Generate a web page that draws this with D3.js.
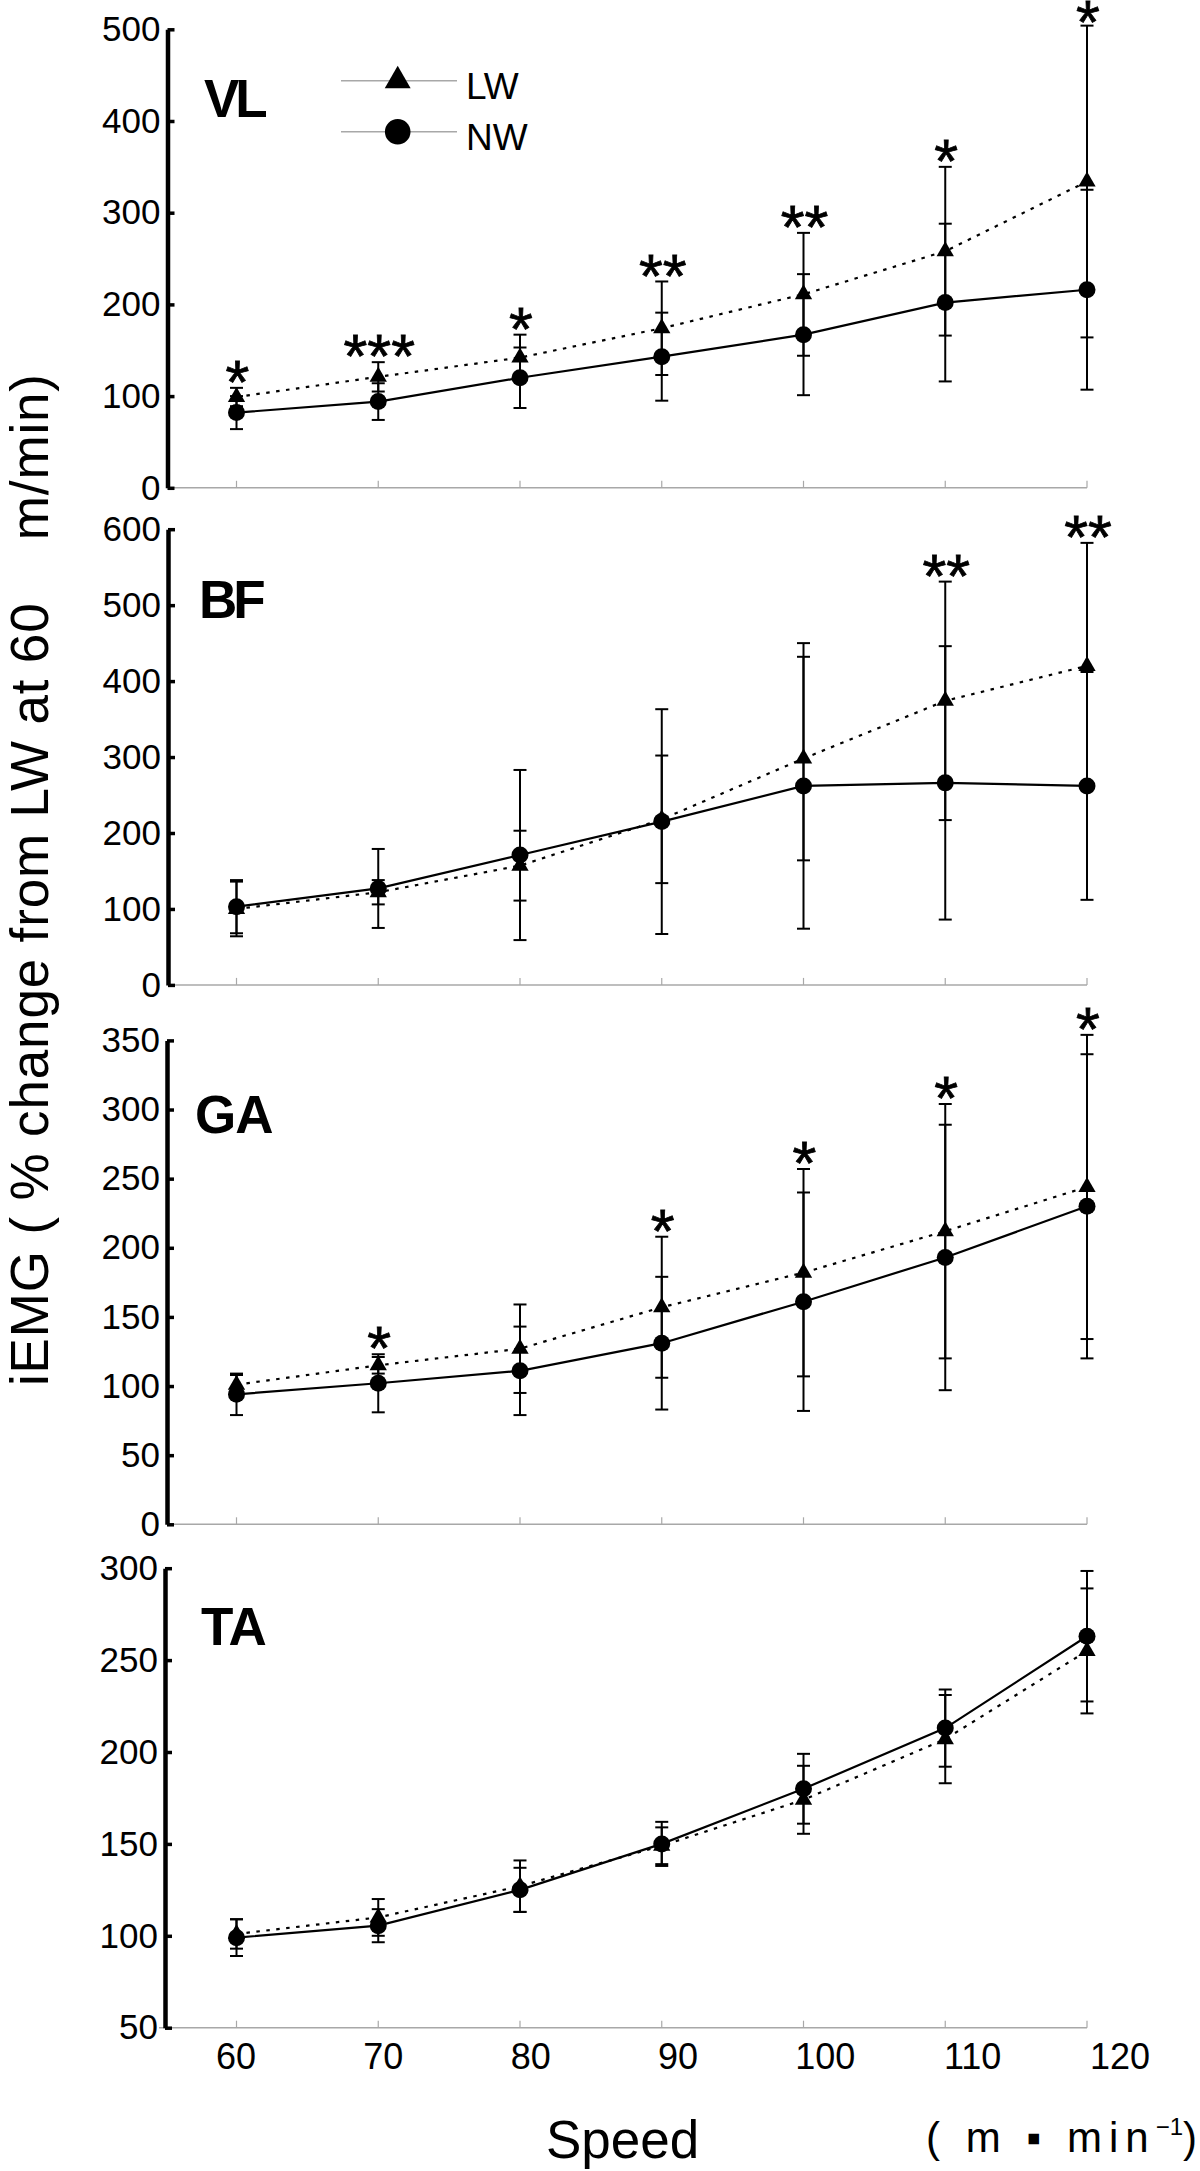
<!DOCTYPE html>
<html>
<head>
<meta charset="utf-8">
<script src="https://cdn.jsdelivr.net/npm/d3@7"></script>
<style>
  html, body { margin: 0; padding: 0; background: #fff; }
  svg { display: block; }
  text { font-family: "Liberation Sans", Arial, Helvetica, sans-serif; fill: #000; }
</style>
</head>
<body>
<svg id="chart" width="1200" height="2171"></svg>
<script>
// ---------- DATA ----------
const speeds = [60, 70, 80, 90, 100, 110, 120];
const muscleNames = ["VL", "BF", "GA", "TA"];
const seriesNames = ["LW", "NW"];

const vlTicks = [0, 100, 200, 300, 400, 500];
const bfTicks = [0, 100, 200, 300, 400, 500, 600];
const gaTicks = [0, 50, 100, 150, 200, 250, 300, 350];
const taTicks = [50, 100, 150, 200, 250, 300];

// VL
const vlLW   = [99, 121, 142, 174, 211, 258, 334];
const vlLWsd = [10, 16, 25, 51, 67, 92, 170];
const vlNW   = [82, 94, 120, 143, 167, 202, 216];
const vlNWsd = [18, 20, 33, 48, 66, 86, 109];
const vlSig  = ["*", "***", "*", "**", "**", "*", "*"];

// BF
const bfLW   = [100, 122, 157, 218, 298, 374, 420];
const bfLWsd = [36, 16, 46, 84, 134, 157, 162];
const bfNW   = [103, 127, 171, 215, 262, 266, 262];
const bfNWsd = [35, 52, 112, 148, 188, 180, 150];
const bfSig  = ["", "", "", "", "", "**", "**"];

// GA
const gaLW   = [101, 115, 127, 157, 182, 212, 244];
const gaLWsd = [7, 6, 32, 51, 75, 92, 110];
const gaNW   = [94, 102, 111, 131, 161, 193, 230];
const gaNWsd = [15, 21, 32, 48, 79, 96, 110];
const gaSig  = ["", "*", "", "*", "*", "*", "*"];

// TA
const taLW   = [101, 110, 127, 149, 174, 207, 255];
const taLWsd = [8, 10, 14, 10, 18.5, 24, 34];
const taNW   = [99, 105.5, 125, 150, 180, 213, 263];
const taNWsd = [10, 9, 12, 12, 19, 21, 35.5];
const taSig  = ["", "", "", "", "", "", ""];

const yAxisTitle = "iEMG ( % change from LW at 60    m/min)";
const xAxisTitle = "Speed";

// ---------- LAYOUT (positions / styles) ----------
const panelLayout = [
  { axisX: 167.5, yBottom: 487.8, yTop: 29.3,   labelX: 204, labelY: 116.7 },
  { axisX: 168,   yBottom: 984.9, yTop: 529.2,  labelX: 199, labelY: 617.7 },
  { axisX: 167,   yBottom: 1524.3, yTop: 1040.4, labelX: 195, labelY: 1132.9 },
  { axisX: 165,   yBottom: 2027.7, yTop: 1568.2, labelX: 201, labelY: 1644.6 }
];

const panels = [
  { name: muscleNames[0], ticks: vlTicks, LW: vlLW, LWsd: vlLWsd, NW: vlNW, NWsd: vlNWsd, sig: vlSig },
  { name: muscleNames[1], ticks: bfTicks, LW: bfLW, LWsd: bfLWsd, NW: bfNW, NWsd: bfNWsd, sig: bfSig },
  { name: muscleNames[2], ticks: gaTicks, LW: gaLW, LWsd: gaLWsd, NW: gaNW, NWsd: gaNWsd, sig: gaSig },
  { name: muscleNames[3], ticks: taTicks, LW: taLW, LWsd: taLWsd, NW: taNW, NWsd: taNWsd, sig: taSig }
];

// measure asterisk glyph so it sits just above the top cap
const starFont = "'Liberation Sans', Arial, Helvetica, sans-serif";
const ctx = document.createElement("canvas").getContext("2d");
ctx.font = `100px ${starFont}`;
const mStar = ctx.measureText("*");
const starAsc100 = mStar.actualBoundingBoxAscent || 72;
const starDesc100 = (mStar.actualBoundingBoxDescent !== undefined) ? mStar.actualBoundingBoxDescent : -38;
const starH100 = Math.max(10, starAsc100 + starDesc100);
const starTargetH = 22;
const starFS = Math.min(80, Math.max(40, 100 * starTargetH / starH100));
const starDesc = starDesc100 * starFS / 100;   // negative: glyph bottom above baseline
const starAsc = starAsc100 * starFS / 100;
const starGap = 5;

const svg = d3.select("#chart");
const x = d3.scaleLinear().domain([60, 120]).range([236.5, 1087]);
const xLabel = d3.scaleLinear().domain([60, 120]).range([236, 1120]);

const tri = d3.symbol().type(d3.symbolTriangle).size(130);
const dot = d3.symbol().type(d3.symbolCircle).size(Math.PI * 8.5 * 8.5);
const capW = 6.5;

panels.forEach((p, i) => {
  const L = panelLayout[i];
  const y = d3.scaleLinear().domain(d3.extent(p.ticks)).range([L.yBottom, L.yTop]);
  const g = svg.append("g");

  // x axis (thin gray)
  g.append("line")
    .attr("x1", i === 3 ? L.axisX - 6 : L.axisX + 2).attr("x2", x(120))
    .attr("y1", L.yBottom).attr("y2", L.yBottom)
    .attr("stroke", "#a8a8a8").attr("stroke-width", 1.5);
  g.selectAll(".xt").data(speeds).enter().append("line")
    .attr("x1", d => x(d)).attr("x2", d => x(d))
    .attr("y1", L.yBottom).attr("y2", L.yBottom - 7)
    .attr("stroke", "#a8a8a8").attr("stroke-width", 1.2);

  // y axis (thick black, ticks inward)
  const ax = g.append("g").attr("transform", `translate(${L.axisX},0)`)
    .call(d3.axisLeft(y).tickValues(p.ticks).tickSizeInner(-7).tickSizeOuter(0).tickPadding(7).tickFormat(d3.format("d")));
  ax.select(".domain").attr("stroke", "#000").attr("stroke-width", 4.5);
  ax.selectAll(".tick line").attr("stroke", "#000").attr("stroke-width", 3.5);
  ax.selectAll(".tick text")
    .attr("font-family", "'Liberation Sans', Arial, Helvetica, sans-serif")
    .attr("font-size", 35).attr("fill", "#000");

  // panel label
  g.append("text").attr("x", L.labelX).attr("y", L.labelY)
    .attr("font-size", 53).attr("font-weight", "bold").attr("letter-spacing", p.name === "VL" || p.name === "BF" ? -4 : -1)
    .text(p.name);

  const lwData = speeds.map((s, k) => ({ s, m: p.LW[k], sd: p.LWsd[k] }));
  const nwData = speeds.map((s, k) => ({ s, m: p.NW[k], sd: p.NWsd[k] }));
  const line = d3.line().x(d => x(d.s)).y(d => y(d.m));

  // lines
  g.append("path").datum(nwData).attr("d", line)
    .attr("fill", "none").attr("stroke", "#000").attr("stroke-width", 2.2);
  g.append("path").datum(lwData).attr("d", line)
    .attr("fill", "none").attr("stroke", "#000").attr("stroke-width", 2.2)
    .attr("stroke-dasharray", "3.5,6.5");

  // error bars
  [lwData, nwData].forEach(ser => {
    const eb = g.append("g");
    ser.forEach(d => {
      const yt = y(d.m + d.sd), yb = y(d.m - d.sd), cx = x(d.s);
      eb.append("line").attr("x1", cx).attr("x2", cx).attr("y1", yt).attr("y2", yb)
        .attr("stroke", "#000").attr("stroke-width", 2);
      eb.append("line").attr("x1", cx - capW).attr("x2", cx + capW).attr("y1", yt).attr("y2", yt)
        .attr("stroke", "#000").attr("stroke-width", 2);
      eb.append("line").attr("x1", cx - capW).attr("x2", cx + capW).attr("y1", yb).attr("y2", yb)
        .attr("stroke", "#000").attr("stroke-width", 2);
    });
  });

  // markers
  g.selectAll(".tri").data(lwData).enter().append("path")
    .attr("d", tri).attr("transform", d => `translate(${x(d.s)},${y(d.m)})`).attr("fill", "#000");
  g.selectAll(".dot").data(nwData).enter().append("path")
    .attr("d", dot).attr("transform", d => `translate(${x(d.s)},${y(d.m)})`).attr("fill", "#000");

  // significance asterisks (glyph kept inside the picture)
  g.selectAll(".sig").data(speeds.map((s, k) => ({ s, t: p.sig[k], top: Math.max(p.LW[k] + p.LWsd[k], p.NW[k] + p.NWsd[k]) })))
    .enter().append("text")
    .attr("x", d => x(d.s) + 1)
    .attr("y", d => Math.max(starAsc + 1, y(d.top) - starGap - starDesc))
    .attr("text-anchor", "middle").attr("font-size", starFS)
    .attr("stroke", "#000").attr("stroke-width", 0.8)
    .text(d => d.t);

  // x tick labels only on the bottom panel
  if (i === 3) {
    g.selectAll(".xl").data(speeds).enter().append("text")
      .attr("x", d => xLabel(d)).attr("y", L.yBottom + 41)
      .attr("text-anchor", "middle").attr("font-size", 36)
      .text(d => d);
  }
});

// legend (in VL panel)
const leg = svg.append("g");
seriesNames.forEach((n, k) => {
  const ly = k === 0 ? 80.7 : 131.7;
  leg.append("line").attr("x1", 341).attr("x2", 457).attr("y1", ly).attr("y2", ly)
    .attr("stroke", "#a8a8a8").attr("stroke-width", 1.5);
  const sym = k === 0 ? d3.symbol().type(d3.symbolTriangle).size(290) : d3.symbol().type(d3.symbolCircle).size(Math.PI * 12.8 * 12.8);
  leg.append("path").attr("d", sym).attr("transform", `translate(397.7,${ly})`).attr("fill", "#000");
  leg.append("text").attr("x", 466).attr("y", ly + (k === 0 ? 18.5 : 18.3)).attr("font-size", 37).text(n);
});

// y axis title
svg.append("text")
  .attr("transform", "translate(48,880) rotate(-90)")
  .attr("text-anchor", "middle").attr("font-size", 53)
  .attr("textLength", 1012).attr("lengthAdjust", "spacing")
  .style("white-space", "pre")
  .text(yAxisTitle);

// x axis title
svg.append("text").attr("x", 546).attr("y", 2158).attr("font-size", 53).text(xAxisTitle);

const unit = svg.append("text").attr("x", 1197).attr("y", 2152).attr("text-anchor", "end")
  .attr("font-family", "'Noto Sans CJK JP', 'DejaVu Sans', sans-serif").attr("font-size", 42);
unit.append("tspan").attr("letter-spacing", 7).text("( m ▪ min");
unit.append("tspan").attr("dy", -17).attr("font-size", 24).text("−1");
unit.append("tspan").attr("dy", 17).text(")");
</script>
</body>
</html>
